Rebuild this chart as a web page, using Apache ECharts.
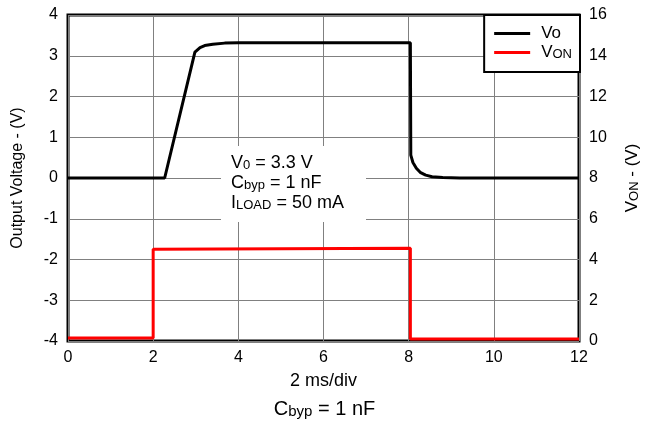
<!DOCTYPE html>
<html><head><meta charset="utf-8">
<script src="https://cdn.jsdelivr.net/npm/echarts@6/dist/echarts.min.js"></script>
<style>html,body{margin:0;padding:0;background:#fff}#c{width:649px;height:428px}</style>
</head><body><div id="c"></div>
<script>
// Time (ms, 2 ms/div scale as drawn 0..12)
var voX = [0, 2.27, 2.98, 3.1, 3.21, 3.4, 3.68, 4.0, 8.04, 8.05, 8.1, 8.18, 8.27, 8.4, 8.55, 8.8, 9.2, 12];
var voY = [0, 0, 3.09, 3.2, 3.25, 3.28, 3.31, 3.32, 3.32, 0.56, 0.38, 0.24, 0.14, 0.07, 0.03, 0.01, 0, 0];
var vonX = [0, 2.0, 2.0, 8.04, 8.04, 12];
var vonY = [0.15, 0.15, 4.5, 4.55, 0.1, 0.1];
var xTicks = [0, 2, 4, 6, 8, 10, 12];
var leftTicks = [-4, -3, -2, -1, 0, 1, 2, 3, 4];
var rightTicks = [0, 2, 4, 6, 8, 10, 12, 14, 16];

function pairs(xs, ys) { return xs.map(function (x, i) { return [x, ys[i]]; }); }
var F = 'Liberation Sans, Arial, sans-serif';
var chart = echarts.init(document.getElementById('c'));
chart.setOption({
  animation: false,
  textStyle: { fontFamily: F },
  title: {
    text: '{m|C}{s|byp}{m| = 1 nF}',
    left: 'center', top: 390,
    textStyle: { fontWeight: 'normal', rich: {
      m: { fontSize: 20, fontFamily: F, fontWeight: 'normal', color: '#000', verticalAlign: 'bottom', lineHeight: 24 },
      s: { fontSize: 15, fontFamily: F, fontWeight: 'normal', color: '#000', verticalAlign: 'bottom', lineHeight: 14 }
    } }
  },
  grid: { left: 68, right: 69, top: 15, bottom: 87, show: true, borderColor: '#000', borderWidth: 3, backgroundColor: 'transparent' },
  legend: {
    orient: 'vertical', right: 69, top: 15,
    backgroundColor: '#fff', borderColor: '#000', borderWidth: 2, borderRadius: 0,
    padding: [10, 8, 11, 10], itemGap: 2, itemWidth: 36, itemHeight: 3,
    data: [{ name: 'Vo', icon: 'rect' }, { name: 'VON', icon: 'rect' }],
    formatter: function (n) { return n === 'VON' ? '{p|}{m|V}{s|ON}' : '{p|}{m|Vo}'; },
    textStyle: { rich: {
      p: { width: 6, lineHeight: 17 },
      m: { fontSize: 17, fontFamily: F, color: '#000', verticalAlign: 'bottom', lineHeight: 17 },
      s: { fontSize: 13, fontFamily: F, color: '#000', verticalAlign: 'bottom', lineHeight: 11 }
    } }
  },
  xAxis: {
    type: 'value', min: 0, max: 12, interval: 2,
    name: '2 ms/div', nameLocation: 'middle', nameGap: 31,
    nameTextStyle: { fontSize: 18, color: '#000', fontFamily: F },
    axisLine: { show: false }, axisTick: { show: false },
    axisLabel: { fontSize: 16, color: '#000', margin: 9, fontFamily: F,
      formatter: function (v) { return xTicks.indexOf(v) >= 0 ? String(v) : ''; } },
    splitLine: { show: true, lineStyle: { color: '#808080', width: 1 } }
  },
  yAxis: [{
    type: 'value', min: -4, max: 4, interval: 1, position: 'left',
    name: 'Output Voltage - (V)', nameLocation: 'middle', nameGap: 42,
    nameTextStyle: { fontSize: 16, color: '#000', fontFamily: F },
    axisLine: { show: false }, axisTick: { show: false },
    axisLabel: { fontSize: 16, color: '#000', margin: 10, fontFamily: F,
      formatter: function (v) { return leftTicks.indexOf(v) >= 0 ? String(v) : ''; } },
    splitLine: { show: true, lineStyle: { color: '#808080', width: 1 } }
  }, {
    type: 'value', min: 0, max: 16, interval: 2, position: 'right',
    name: '{m|V}{s|ON}{m| - (V)}', nameLocation: 'middle', nameGap: 42, nameRotate: 90,
    nameTextStyle: { rich: {
      m: { fontSize: 17, fontFamily: F, color: '#000', verticalAlign: 'bottom', lineHeight: 20 },
      s: { fontSize: 13, fontFamily: F, color: '#000', verticalAlign: 'bottom', lineHeight: 13 }
    } },
    axisLine: { show: false }, axisTick: { show: false },
    axisLabel: { fontSize: 16, color: '#000', margin: 10, fontFamily: F,
      formatter: function (v) { return rightTicks.indexOf(v) >= 0 ? String(v) : ''; } },
    splitLine: { show: false }
  }],
  graphic: [{
    type: 'rect', shape: { x: 221, y: 146, width: 145, height: 76 },
    style: { fill: '#fff' }, z: 5
  }, {
    type: 'text', left: 231, top: 154, z: 6,
    style: {
      text: '{m|V}{s|0}{m| = 3.3 V}\n{m|C}{s|byp}{m| = 1 nF}\n{m|I}{s|LOAD}{m| = 50 mA}',
      rich: {
        m: { fontSize: 18, fontFamily: F, fill: '#000', verticalAlign: 'bottom', lineHeight: 20 },
        s: { fontSize: 13, fontFamily: F, fill: '#000', verticalAlign: 'bottom', lineHeight: 12 }
      }
    }
  }],
  series: [{
    name: 'Vo', type: 'line', yAxisIndex: 0, data: pairs(voX, voY),
    showSymbol: false, symbol: 'none', smooth: false, z: 3,
    lineStyle: { color: '#000', width: 3 }, itemStyle: { color: '#000' }
  }, {
    name: 'VON', type: 'line', yAxisIndex: 1, data: pairs(vonX, vonY),
    showSymbol: false, symbol: 'none', z: 3,
    lineStyle: { color: '#ff0000', width: 3 }, itemStyle: { color: '#ff0000' }
  }]
});
</script></body></html>
